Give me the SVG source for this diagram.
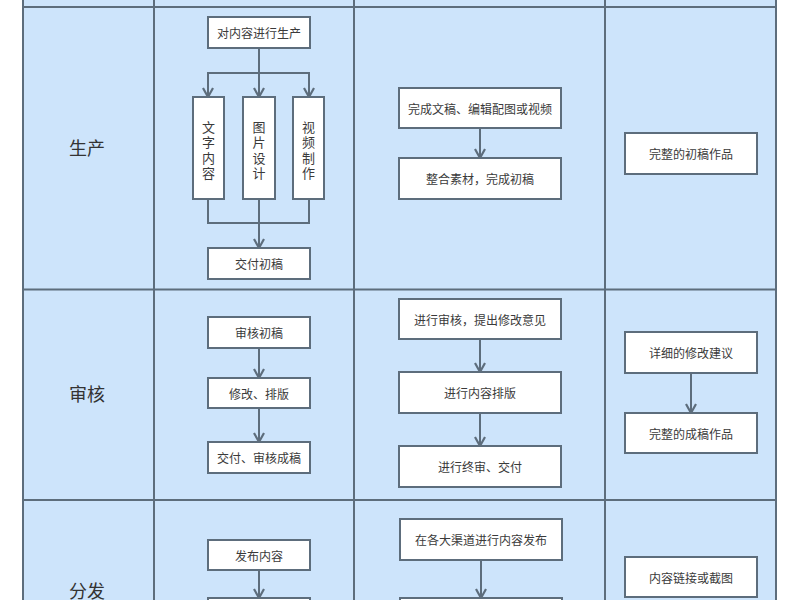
<svg xmlns="http://www.w3.org/2000/svg" width="800" height="600" viewBox="0 0 800 600">
<style>
.grid{stroke:#5d6d7c;stroke-width:2;fill:none}
.box{fill:#ffffff;stroke:#5d6d7c;stroke-width:2}
.t{font-family:"Noto Sans CJK SC","Liberation Sans",sans-serif;font-size:12px;fill:#3a3a3a;text-anchor:middle;dominant-baseline:central}
.tv{font-family:"Noto Sans CJK SC","Liberation Sans",sans-serif;font-size:13px;fill:#3a3a3a;text-anchor:middle;dominant-baseline:central}
.lane{font-family:"Noto Sans CJK SC","Liberation Sans",sans-serif;font-size:18px;fill:#333333;text-anchor:middle;dominant-baseline:central}
.c{stroke:#5d6d7c;stroke-width:2;fill:none}
.ca{stroke:#5d6d7c;stroke-width:2;fill:none;marker-end:url(#arr)}
</style>
<defs>
<marker id="arr" markerUnits="userSpaceOnUse" markerWidth="14" markerHeight="12" refX="11" refY="6" orient="auto">
<path d="M2,1 L11,6 L2,11" fill="none" stroke="#5d6d7c" stroke-width="2.2"/>
</marker>
</defs>
<rect x="0" y="0" width="800" height="600" fill="#ffffff"/>
<g id="lanes">
<rect x="23" y="0" width="753" height="600" fill="#cde4fb"/>
<line class="grid" x1="23" y1="0" x2="23" y2="600"/>
<line class="grid" x1="154" y1="0" x2="154" y2="600"/>
<line class="grid" x1="354" y1="0" x2="354" y2="600"/>
<line class="grid" x1="605" y1="0" x2="605" y2="600"/>
<line class="grid" x1="776" y1="0" x2="776" y2="600"/>
<line class="grid" x1="23" y1="7" x2="776" y2="7"/>
<line class="grid" x1="23" y1="289.5" x2="776" y2="289.5"/>
<line class="grid" x1="23" y1="500" x2="776" y2="500"/>
<text class="lane" x="87" y="147">生产</text>
<text class="lane" x="87" y="393">审核</text>
<text class="lane" x="87" y="590">分发</text>
</g>
<g id="connectors">
<line class="ca" x1="259" y1="48" x2="259" y2="97"/>
<polyline class="c" points="208,97 208,73 309,73 309,97"/>
<line class="ca" x1="208" y1="80" x2="208" y2="97"/>
<line class="ca" x1="309" y1="80" x2="309" y2="97"/>
<polyline class="c" points="208,199 208,223 309,223 309,199"/>
<line class="ca" x1="259" y1="199" x2="259" y2="248"/>
<line class="ca" x1="480" y1="128" x2="480" y2="158"/>
<line class="ca" x1="259" y1="348" x2="259" y2="378"/>
<line class="ca" x1="259" y1="408" x2="259" y2="442"/>
<line class="ca" x1="480" y1="339" x2="480" y2="372"/>
<line class="ca" x1="480" y1="413" x2="480" y2="446"/>
<line class="ca" x1="691" y1="373" x2="691" y2="413"/>
<line class="ca" x1="259" y1="570" x2="259" y2="598"/>
<line class="ca" x1="481" y1="560" x2="481" y2="598"/>
</g>
<g id="n_produce"><rect class="box" x="208" y="17" width="102" height="31"/><text class="t" x="259" y="32.5">对内容进行生产</text></g>
<g id="n_text"><rect class="box" x="193" y="97" width="31" height="102"/>
<text class="tv" x="208.5" y="126">文</text><text class="tv" x="208.5" y="141.5">字</text><text class="tv" x="208.5" y="157">内</text><text class="tv" x="208.5" y="172.5">容</text></g>
<g id="n_image"><rect class="box" x="243" y="97" width="32" height="102"/>
<text class="tv" x="259" y="126">图</text><text class="tv" x="259" y="141.5">片</text><text class="tv" x="259" y="157">设</text><text class="tv" x="259" y="172.5">计</text></g>
<g id="n_video"><rect class="box" x="293" y="97" width="31" height="102"/>
<text class="tv" x="308.5" y="126">视</text><text class="tv" x="308.5" y="141.5">频</text><text class="tv" x="308.5" y="157">制</text><text class="tv" x="308.5" y="172.5">作</text></g>
<g id="n_deliver_draft"><rect class="box" x="208" y="248" width="102" height="31"/><text class="t" x="259" y="263.5">交付初稿</text></g>
<g id="n_complete"><rect class="box" x="399" y="88" width="162" height="40"/><text class="t" x="480" y="108">完成文稿、编辑配图或视频</text></g>
<g id="n_integrate"><rect class="box" x="399" y="158" width="162" height="41"/><text class="t" x="480" y="178.5">整合素材，完成初稿</text></g>
<g id="n_full_draft"><rect class="box" x="625" y="133" width="132" height="41"/><text class="t" x="691" y="153.5">完整的初稿作品</text></g>
<g id="n_review_draft"><rect class="box" x="208" y="317" width="102" height="31"/><text class="t" x="259" y="332.5">审核初稿</text></g>
<g id="n_modify"><rect class="box" x="208" y="378" width="102" height="30"/><text class="t" x="259" y="393">修改、排版</text></g>
<g id="n_deliver_final"><rect class="box" x="208" y="442" width="102" height="31"/><text class="t" x="259" y="457.5">交付、审核成稿</text></g>
<g id="n_review_suggest"><rect class="box" x="399" y="299" width="162" height="40"/><text class="t" x="480" y="319">进行审核，提出修改意见</text></g>
<g id="n_layout"><rect class="box" x="399" y="372" width="162" height="41"/><text class="t" x="480" y="392.5">进行内容排版</text></g>
<g id="n_final_review"><rect class="box" x="399" y="446" width="162" height="41"/><text class="t" x="480" y="466.5">进行终审、交付</text></g>
<g id="n_suggestions"><rect class="box" x="625" y="332" width="132" height="41"/><text class="t" x="691" y="352.5">详细的修改建议</text></g>
<g id="n_final_work"><rect class="box" x="625" y="413" width="132" height="40"/><text class="t" x="691" y="433">完整的成稿作品</text></g>
<g id="n_publish"><rect class="box" x="208" y="540" width="102" height="30"/><text class="t" x="259" y="555">发布内容</text></g>
<g id="n_channels"><rect class="box" x="400" y="519" width="162" height="41"/><text class="t" x="481" y="539.5">在各大渠道进行内容发布</text></g>
<g id="n_link"><rect class="box" x="625" y="557" width="132" height="40"/><text class="t" x="691" y="577">内容链接或截图</text></g>
<g id="n_next1"><rect class="box" x="208" y="598" width="102" height="31"/></g>
<g id="n_next2"><rect class="box" x="400" y="598" width="162" height="41"/></g>
</svg>
